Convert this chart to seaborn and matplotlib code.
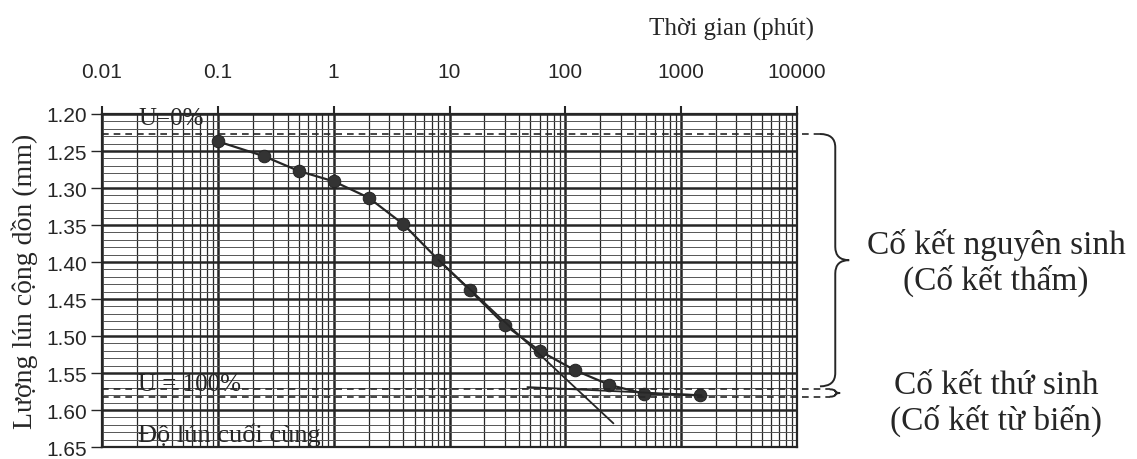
import matplotlib
matplotlib.use("Agg")
import matplotlib.pyplot as plt
from matplotlib.path import Path
from matplotlib.patches import PathPatch
from matplotlib.ticker import FixedLocator, LogLocator, NullFormatter, MultipleLocator
import seaborn as sns
import pandas as pd

# Số liệu
time_min = [0.1, 0.25, 0.5, 1, 2, 4, 8, 15, 30, 60, 120, 240, 480, 1440]
settlement = [1.237, 1.257, 1.277, 1.291, 1.313, 1.349, 1.397, 1.438,
              1.485, 1.520, 1.546, 1.566, 1.578, 1.580]

steep_t = [8, 260]
steep_y = [1.397, 1.618]
flat_t = [47, 1500]
flat_y = [1.569, 1.580]

u0_level = 1.227
u100_level = 1.572
final_level = 1.582

x_ticks = [0.01, 0.1, 1, 10, 100, 1000, 10000]
x_labels = ["0.01", "0.1", "1", "10", "100", "1000", "10000"]
y_ticks = [1.20, 1.25, 1.30, 1.35, 1.40, 1.45, 1.50, 1.55, 1.60, 1.65]

sns.set_style("white")
plt.rcParams['font.family'] = ['Liberation Sans', 'DejaVu Sans']
serif = ['Liberation Serif', 'DejaVu Serif']
ink = '#262626'

df = pd.DataFrame({'t': time_min, 's': settlement})

fig = plt.figure(figsize=(11.37, 4.6), dpi=100)
ax = fig.add_axes([0.0897, 0.026, 0.6113, 0.724])

# Lưới giấy bán logarit
ax.set_xscale('log')
ax.set_xlim(0.01, 10000)
ax.set_ylim(1.65, 1.20)
ax.xaxis.set_major_locator(FixedLocator(x_ticks))
ax.xaxis.set_minor_locator(LogLocator(base=10, subs=range(2, 10), numticks=20))
ax.xaxis.set_minor_formatter(NullFormatter())
ax.yaxis.set_major_locator(FixedLocator(y_ticks))
ax.yaxis.set_minor_locator(MultipleLocator(0.01))
ax.grid(which='major', color=ink, linewidth=1.8)
ax.xaxis.grid(which='minor', color=ink, linewidth=0.9)
ax.yaxis.grid(which='minor', color='#555555', linewidth=0.7)
ax.set_axisbelow(True)

ax.xaxis.tick_top()
ax.set_xticklabels(x_labels)
ax.set_yticklabels([f"{v:.2f}" for v in y_ticks])
ax.tick_params(axis='x', which='major', top=True, bottom=False, length=6,
               width=1.5, pad=18, labelsize=15, colors=ink)
ax.tick_params(axis='x', which='minor', top=False, bottom=False)
ax.tick_params(axis='y', which='major', left=True, length=8, width=1,
               pad=3, labelsize=15, colors=ink)
ax.tick_params(axis='y', which='minor', left=False)
for sp in ax.spines.values():
    sp.set_color(ink)
    sp.set_linewidth(1.6)

# Đường cong cố kết
sns.lineplot(data=df, x='t', y='s', ax=ax, color=ink, linewidth=1.6,
             marker='o', markersize=9, markeredgecolor=ink, markerfacecolor='#333333')
ax.plot(steep_t, steep_y, color=ink, linewidth=1.3)
ax.plot(flat_t, flat_y, color=ink, linewidth=1.3)

ax.set_xlabel('')
ax.set_ylabel('Lượng lún cộng dồn (mm)', family=serif, fontsize=20, color=ink, labelpad=6)

# Các đường nét đứt U=0% và U=100%
trans = ax.get_yaxis_transform()
ax.plot([0, 1.033], [u0_level, u0_level], transform=trans, clip_on=False,
        color=ink, linestyle=(0, (4, 3)), linewidth=1.2)
for lvl in (u100_level, final_level):
    ax.plot([0, 1.047], [lvl, lvl], transform=trans, clip_on=False,
            color=ink, linestyle=(0, (4, 3)), linewidth=1.2)

ax.text(0.052, 1.206, 'U=0%', transform=trans, family=serif, fontsize=18,
        color=ink, va='center', ha='left')
ax.text(0.052, 1.565, 'U = 100%', transform=trans, family=serif, fontsize=18,
        color=ink, va='center', ha='left')
ax.text(0.052, 1.633, 'Độ lún cuối cùng', transform=trans, family=serif, fontsize=19,
        color=ink, va='center', ha='left')


def brace(x0, xs, xt, top, bot, r):
    mid = (top + bot) / 2
    verts = [(x0, top), (xs, top), (xs, top + r),
             (xs, mid - r), (xs, mid), (xt, mid),
             (xs, mid), (xs, mid + r),
             (xs, bot - r), (xs, bot), (x0, bot)]
    codes = [Path.MOVETO, Path.CURVE3, Path.CURVE3,
             Path.LINETO, Path.CURVE3, Path.CURVE3,
             Path.CURVE3, Path.CURVE3,
             Path.LINETO, Path.CURVE3, Path.CURVE3]
    patch = PathPatch(Path(verts, codes), transform=trans, fill=False,
                      edgecolor=ink, linewidth=1.4, clip_on=False)
    ax.add_patch(patch)


brace(1.033, 1.055, 1.075, u0_level, 1.568, 0.018)
brace(1.047, 1.055, 1.062, u100_level, final_level, 0.003)

fig.text(0.643, 0.935, 'Thời gian (phút)', family=serif, fontsize=18,
         color=ink, ha='center', va='center')
fig.text(0.876, 0.428, 'Cố kết nguyên sinh\n(Cố kết thấm)', family=serif,
         fontsize=24, color=ink, ha='center', va='center', linespacing=1.15)
fig.text(0.876, 0.122, 'Cố kết thứ sinh\n(Cố kết từ biến)', family=serif,
         fontsize=24, color=ink, ha='center', va='center', linespacing=1.15)

fig.savefig('out.png', dpi=100, facecolor='white')
plt.close(fig)
